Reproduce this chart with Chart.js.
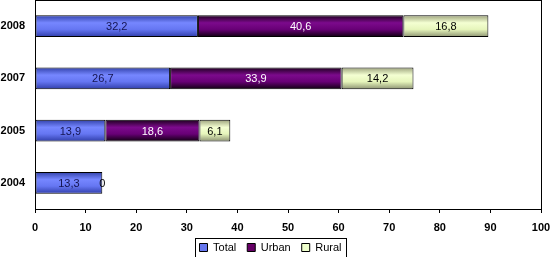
<!DOCTYPE html>
<html>
<head>
<meta charset="utf-8">
<script src="https://cdn.jsdelivr.net/npm/chart.js"></script>
<style>
  html, body { margin: 0; padding: 0; background: #fff; }
</style>
</head>
<body>
<canvas id="chart" width="550" height="257"></canvas>
<script>
// Data
const years = ['2008', '2007', '2005', '2004'];
const totalValues = [32.2, 26.7, 13.9, 13.3];
const urbanValues = [40.6, 33.9, 18.6, 0];
const ruralValues = [16.8, 14.2, 6.1, null];
const xTicks = [0, 10, 20, 30, 40, 50, 60, 70, 80, 90, 100];

// Colours
const flatColors = ['#6677ee', '#660066', '#eeffcc'];
const gradStops = [
  ['#3040a8', '#7687ff', '#6576f2', '#2e3ca8'],
  ['#1a001a', '#7c0a8c', '#680076', '#0d000d'],
  ['#9aa07a', '#f4ffd2', '#e6f5bb', '#8a9070']
];
const labelColors = ['#141450', '#ffffff', '#000000'];

function barGradient(idx) {
  return (ctx) => {
    const chart = ctx.chart;
    const y = chart.scales.y;
    if (!y || ctx.dataIndex === undefined) return flatColors[idx];
    const c = y.getPixelForValue(ctx.dataIndex);
    const half = 11;
    const g = chart.ctx.createLinearGradient(0, c - half, 0, c + half);
    const s = gradStops[idx];
    g.addColorStop(0, s[0]);
    g.addColorStop(0.35, s[1]);
    g.addColorStop(0.65, s[2]);
    g.addColorStop(1, s[3]);
    return g;
  };
}

// value labels in the middle of each segment
const valueLabels = {
  id: 'valueLabels',
  afterDatasetsDraw(chart) {
    const ctx = chart.ctx;
    ctx.save();
    ctx.font = '11px "Liberation Sans", Arial, sans-serif';
    ctx.textAlign = 'center';
    ctx.textBaseline = 'middle';
    chart.data.datasets.forEach((ds, i) => {
      const meta = chart.getDatasetMeta(i);
      meta.data.forEach((el, j) => {
        const v = ds.data[j];
        if (v === null || v === undefined) return;
        ctx.fillStyle = v === 0 ? '#000' : labelColors[i];
        ctx.fillText(String(v).replace('.', ','), (el.x + el.base) / 2, el.y + 1);
      });
    });
    ctx.restore();
  }
};

// fixed legend height (legend box sits low, like the original)
const legendHeight = {
  id: 'legendHeight',
  beforeLayout(chart) {
    const lg = chart.legend;
    if (!lg || lg._fitPatched) return;
    const fit = lg.fit;
    lg.fit = function () {
      fit.call(this);
      this.height = 26;
    };
    lg._fitPatched = true;
  }
};

// frame around the plot area and around the legend
const frames = {
  id: 'frames',
  beforeDatasetsDraw(chart) {
    const a = chart.chartArea;
    const ctx = chart.ctx;
    ctx.save();
    ctx.strokeStyle = '#000';
    ctx.lineWidth = 1;
    ctx.strokeRect(Math.round(a.left) + 0.5, Math.round(a.top) + 0.5,
      Math.round(a.right - a.left), Math.round(a.bottom - a.top));
    ctx.restore();
  },
  afterDraw(chart) {
    const boxes = chart.legend.legendHitBoxes;
    if (!boxes || !boxes.length) return;
    const left = Math.min(...boxes.map(b => b.left)) - 5;
    const right = Math.max(...boxes.map(b => b.left + b.width)) + 4;
    const top = Math.min(...boxes.map(b => b.top)) - 4;
    const bottom = Math.max(...boxes.map(b => b.top + b.height)) + 5;
    const ctx = chart.ctx;
    ctx.save();
    ctx.strokeStyle = '#000';
    ctx.lineWidth = 1;
    ctx.strokeRect(Math.round(left) + 0.5, Math.round(top) + 0.5,
      Math.round(right - left), Math.round(bottom - top));
    ctx.restore();
  }
};

new Chart(document.getElementById('chart'), {
  type: 'bar',
  data: {
    labels: years,
    datasets: [
      { label: 'Total', data: totalValues, backgroundColor: barGradient(0) },
      { label: 'Urban', data: urbanValues, backgroundColor: barGradient(1) },
      { label: 'Rural', data: ruralValues, backgroundColor: barGradient(2) }
    ]
  },
  options: {
    indexAxis: 'y',
    responsive: false,
    animation: false,
    devicePixelRatio: 1,
    layout: { padding: { top: 0, right: 9, left: 0, bottom: 0 } },
    datasets: {
      bar: {
        borderColor: '#000',
        borderWidth: 1,
        borderSkipped: false,
        categoryPercentage: 0.84,
        barPercentage: 0.5
      }
    },
    scales: {
      x: {
        stacked: true,
        min: 0,
        max: 100,
        afterBuildTicks: (scale) => { scale.ticks = xTicks.map(v => ({ value: v })); },
        afterFit: (scale) => {
          scale.height = 22;
          scale.paddingLeft = 0;
          scale.paddingRight = 0;
        },
        grid: { drawOnChartArea: false, drawTicks: true, tickLength: 4, color: '#000' },
        border: { display: true, color: '#000', width: 1 },
        ticks: {
          padding: 8,
          color: '#000',
          maxRotation: 0,
          font: { family: '"Liberation Sans", Arial, sans-serif', size: 11, weight: 'bold' }
        }
      },
      y: {
        stacked: true,
        afterFit: (scale) => {
          scale.width = 35;
          scale.paddingTop = 0;
          scale.paddingBottom = 0;
        },
        grid: { display: false },
        border: { display: true, color: '#000', width: 1 },
        ticks: {
          padding: 2,
          color: '#000',
          font: { family: '"Liberation Sans", Arial, sans-serif', size: 11, weight: 'bold' }
        }
      }
    },
    plugins: {
      tooltip: { enabled: false },
      legend: {
        position: 'bottom',
        labels: {
          boxWidth: 8,
          boxHeight: 8,
          padding: 11,
          color: '#000',
          font: { family: '"Liberation Sans", Arial, sans-serif', size: 11 },
          generateLabels: (chart) => chart.data.datasets.map((ds, i) => ({
            text: ds.label,
            fillStyle: flatColors[i],
            strokeStyle: '#000',
            lineWidth: 1,
            datasetIndex: i,
            hidden: false
          }))
        }
      }
    }
  },
  plugins: [legendHeight, valueLabels, frames]
});
</script>
</body>
</html>
